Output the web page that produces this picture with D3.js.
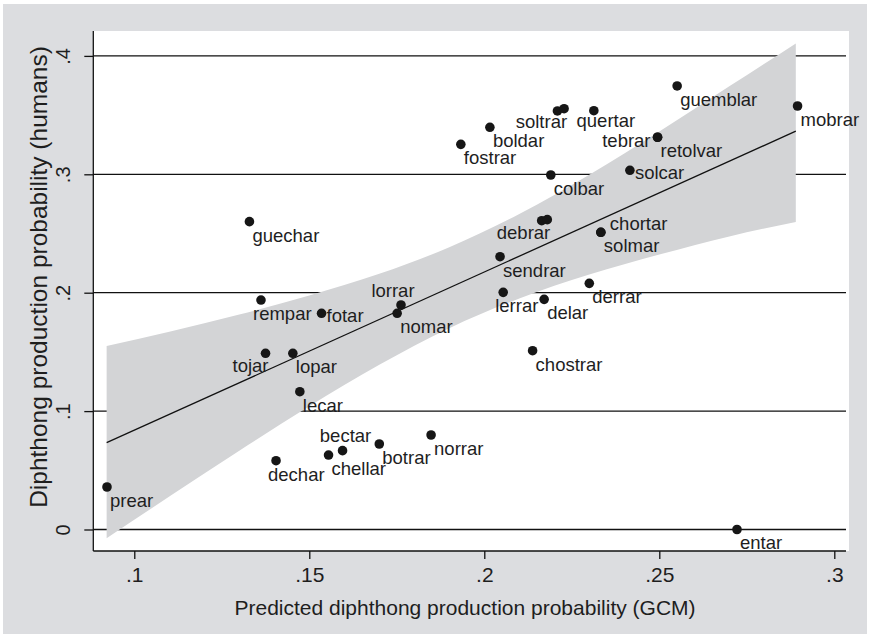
<!DOCTYPE html>
<html>
<head>
<meta charset="utf-8">
<script src="https://cdn.jsdelivr.net/npm/d3@7"></script>
<style>
  html, body { margin: 0; padding: 0; background: #ffffff; }
  svg { display: block; }
  text { font-family: "Liberation Sans", Arial, Helvetica, sans-serif; fill: #1e1e1e; }
</style>
</head>
<body>
<svg id="chart" width="870" height="638"></svg>
<script>
// Nonce verbs: GCM-predicted vs observed diphthong production probability
const words = [
  "prear", "guechar", "rempar", "fotar", "lorrar", "nomar", "tojar", "lopar",
  "lecar", "dechar", "chellar", "bectar", "botrar", "norrar", "fostrar", "boldar",
  "", "soltrar", "quertar", "guemblar", "mobrar", "tebrar", "retolvar", "solcar",
  "colbar", "", "debrar", "chortar", "solmar", "sendrar", "lerrar", "delar",
  "derrar", "chostrar", "entar"
];
const predictedGCM = [
  0.0922, 0.1329, 0.1362, 0.1535, 0.1762, 0.1751, 0.1375, 0.1453,
  0.1473, 0.1405, 0.1555, 0.1595, 0.1700, 0.1848, 0.1933, 0.2016,
  0.2209, 0.2228, 0.2313, 0.2551, 0.2895, 0.2495, 0.2495, 0.2416,
  0.2190, 0.2164, 0.2180, 0.2333, 0.2333, 0.2045, 0.2054, 0.2171,
  0.2300, 0.2138, 0.2722
];
const observedHumans = [
  0.0359, 0.2600, 0.1938, 0.1826, 0.1896, 0.1826, 0.1488, 0.1488,
  0.1164, 0.0581, 0.0629, 0.0666, 0.0722, 0.0798, 0.3253, 0.3397,
  0.3535, 0.3554, 0.3537, 0.3746, 0.3577, 0.3313, 0.3313, 0.3034,
  0.2994, 0.2608, 0.2617, 0.2510, 0.2510, 0.2304, 0.2003, 0.1944,
  0.2079, 0.1510, 0.0000
];
// marker-label clock positions (as in Stata's mlabvposition)
const labelClock = [
  4, 4, 5, 3, 11, 4, 7, 4,
  4, 5, 4, 12, 4, 4, 4, 4,
  0, 7, 6, 4, 4, 9, 4, 3,
  4, 0, 7, 2, 4, 4, 5, 4,
  4, 4, 4
];

// Linear fit and its 95% confidence band
const fitX = [0.0921, 0.2890];
const fitY = [0.0733, 0.3364];
const bandX = [0.0921, 0.11, 0.13, 0.15, 0.17, 0.19, 0.21, 0.23, 0.25, 0.27, 0.2890];
const bandUpper = [0.1550, 0.1670, 0.1816, 0.1976, 0.2159, 0.2384, 0.2665, 0.2997, 0.3362, 0.3743, 0.4105];
const bandLower = [-0.0074, 0.0278, 0.0666, 0.1040, 0.1391, 0.1700, 0.1951, 0.2153, 0.2322, 0.2475, 0.2598];

// Axis ticks
const xTicks = [0.1, 0.15, 0.2, 0.25, 0.3];
const xTickLabels = [".1", ".15", ".2", ".25", ".3"];
const yTicks = [0, 0.1, 0.2, 0.3, 0.4];
const yTickLabels = ["0", ".1", ".2", ".3", ".4"];

const xTitle = "Predicted diphthong production probability (GCM)";
const yTitle = "Diphthong production probability (humans)";

// ---- layout ----
const W = 870, H = 638;
const plot = { left: 93.3, right: 849, top: 31, bottom: 551 };

const svg = d3.select("#chart");

// outer graph region
svg.append("rect").attr("x", 0).attr("y", 0).attr("width", W).attr("height", H).attr("fill", "#ffffff");
svg.append("rect").attr("x", 3).attr("y", 4).attr("width", W - 6).attr("height", H - 8).attr("fill", "#dcdde0");
// plot region
svg.append("rect")
  .attr("x", plot.left).attr("y", plot.top)
  .attr("width", plot.right - plot.left).attr("height", plot.bottom - plot.top)
  .attr("fill", "#ffffff");

const x = d3.scaleLinear().domain([0.08829, 0.3042]).range([plot.left, plot.right]);
const y = d3.scaleLinear().domain([-0.01816, 0.42103]).range([plot.bottom, plot.top]);

// horizontal grid lines
svg.append("g").selectAll("line").data(yTicks).join("line")
  .attr("x1", plot.left).attr("x2", plot.right - 3)
  .attr("y1", d => y(d)).attr("y2", d => y(d))
  .attr("stroke", "#111").attr("stroke-width", 1.3);

// confidence band
const band = bandX.map((v, i) => ({ x: v, lo: bandLower[i], hi: bandUpper[i] }));
svg.append("path")
  .datum(band)
  .attr("d", d3.area().curve(d3.curveMonotoneX)
    .x(d => x(d.x)).y0(d => y(d.lo)).y1(d => y(d.hi)))
  .attr("fill", "#d3d4d6");

// fitted line
svg.append("path")
  .datum(fitX.map((v, i) => [v, fitY[i]]))
  .attr("d", d3.line().x(d => x(d[0])).y(d => y(d[1])))
  .attr("fill", "none").attr("stroke", "#111").attr("stroke-width", 1.3);

// axes
const xAxis = d3.axisBottom(x).tickValues(xTicks)
  .tickFormat((d, i) => xTickLabels[i]).tickSize(8).tickSizeOuter(0).tickPadding(8);
const gx = svg.append("g").attr("transform", `translate(0,${plot.bottom})`).call(xAxis);
gx.select(".domain").attr("stroke", "#111").attr("stroke-width", 1.3)
  .attr("d", `M${plot.left},0H${plot.right - 3}`);
gx.selectAll(".tick line").attr("stroke", "#111").attr("stroke-width", 1.3);
gx.selectAll(".tick text").attr("font-size", 21).attr("fill", "#1e1e1e")
  .attr("font-family", '"Liberation Sans", Arial, sans-serif');

const yAxis = d3.axisLeft(y).tickValues(yTicks)
  .tickFormat((d, i) => yTickLabels[i]).tickSize(9).tickSizeOuter(0).tickPadding(6);
const gy = svg.append("g").attr("transform", `translate(${plot.left},0)`).call(yAxis);
gy.select(".domain").attr("stroke", "#111").attr("stroke-width", 1.3)
  .attr("d", `M0,${plot.top}V${plot.bottom}`);
gy.selectAll(".tick line").attr("stroke", "#111").attr("stroke-width", 1.3);
gy.selectAll(".tick text")
  .attr("font-size", 20).attr("fill", "#1e1e1e")
  .attr("font-family", '"Liberation Sans", Arial, sans-serif')
  .attr("text-anchor", "middle").attr("dy", null).attr("x", null)
  .attr("transform", "translate(-23,0) rotate(-90)")
  .attr("y", 0);

// axis titles
svg.append("text")
  .attr("x", 465).attr("y", 615)
  .attr("text-anchor", "middle").attr("font-size", 21)
  .text(xTitle);
svg.append("text")
  .attr("transform", "translate(46.5,277) rotate(-90)")
  .attr("text-anchor", "middle").attr("font-size", 24.5)
  .text(yTitle);

// points
const pts = words.map((w, i) => ({ w, gx: predictedGCM[i], hy: observedHumans[i], pos: labelClock[i] }));

svg.append("g").selectAll("circle").data(pts).join("circle")
  .attr("cx", d => x(d.gx)).attr("cy", d => y(d.hy))
  .attr("r", 4.8).attr("fill", "#161616");

// label offsets for each clock position
const clock = {
  2:  { anchor: "start",  dx: 9,  dy: -2 },
  3:  { anchor: "start",  dx: 5,  dy: 9 },
  4:  { anchor: "start",  dx: 3,  dy: 20 },
  5:  { anchor: "start",  dx: -8, dy: 20 },
  6:  { anchor: "middle", dx: 12, dy: 16 },
  7:  { anchor: "end",    dx: 3,  dy: 19 },
  9:  { anchor: "end",    dx: -7, dy: 10 },
  11: { anchor: "middle", dx: -8, dy: -8 },
  12: { anchor: "middle", dx: 3,  dy: -9 }
};

svg.append("g").selectAll("text").data(pts.filter(d => d.w && clock[d.pos])).join("text")
  .attr("x", d => x(d.gx) + clock[d.pos].dx)
  .attr("y", d => y(d.hy) + clock[d.pos].dy)
  .attr("text-anchor", d => clock[d.pos].anchor)
  .attr("font-size", 18.5)
  .attr("fill", "#222")
  .text(d => d.w);
</script>
</body>
</html>
